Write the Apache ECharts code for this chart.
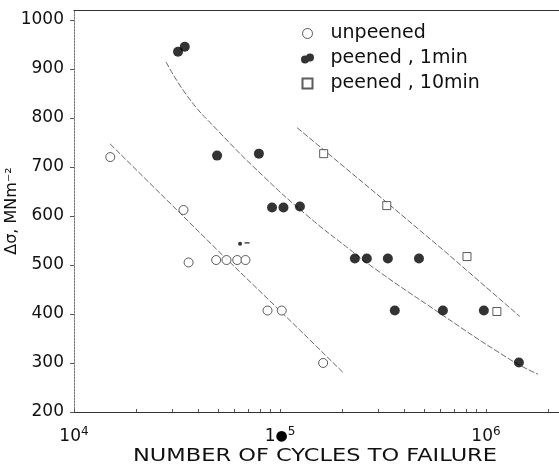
<!DOCTYPE html>
<html>
<head>
<meta charset="utf-8">
<script src="https://cdn.jsdelivr.net/npm/echarts@6/dist/echarts.min.js"></script>
<style>
html,body{margin:0;padding:0;background:#fff;}
#chart{width:559px;height:476px;}
</style>
</head>
<body>
<div id="chart"></div>
<script>
// ---- data ----
const unpeenedN = [15000, 34000, 36000, 49000, 55000, 62000, 68000, 87000, 102000, 162000];
const unpeenedS = [720, 612, 505, 510, 510, 510, 510, 407, 407, 300];

const peened1N = [32000, 34500, 49500, 79000, 91500, 104000, 125000, 231000, 264000, 334000, 473000, 361000, 618000, 977000, 1445000];
const peened1S = [935, 945, 723, 727, 617, 617, 619, 513, 513, 513, 513, 407, 407, 407, 301];

const peened10N = [163000, 330000, 809000, 1130000];
const peened10S = [727, 621, 517, 405];

// fitted curves (as drawn)
const fitUnpeenedN = [14960, 50600, 108000, 202000];
const fitUnpeenedS = [747, 527, 393, 281];
const fit1N = [28000, 35700, 49400, 84500, 137000, 219000, 283000, 535000, 1310000, 1790000];
const fit1S = [914, 843, 776, 678, 599, 531, 495, 415, 307, 277];
const fit10N = [121000, 306000, 618000, 1460000];
const fit10S = [780, 639, 531, 395];

// stray marks on the scan
const speckN = [64000];
const speckS = [543];
const dashN = [69200];
const dashS = [545];

// axes
const yTicks = [200, 300, 400, 500, 600, 700, 800, 900, 1000];
const xLabelValues = [10000, 100000, 1000000];
const xTickValues = [10000, 20000, 30000, 40000, 50000, 60000, 70000, 80000, 90000,
  100000, 200000, 300000, 400000, 500000, 600000, 700000, 800000, 900000,
  1000000, 2000000];
const legendNames = ['unpeened', 'peened , 1min', 'peened , 10min'];
const yName = 'Δσ, MNm⁻²';
const xName = 'NUMBER OF CYCLES TO FAILURE';

const FONT = 'DejaVu Sans';
const zip = (a, b) => a.map((v, i) => [v, b[i]]);

const chart = echarts.init(document.getElementById('chart'), null, {renderer: 'canvas'});

const xMin = 10000, xMax = 2340000;

const lineStyleFit = {color: '#6a6a6a', width: 1, type: [6, 2]};

const option = {
  backgroundColor: '#fff',
  animation: false,
  grid: {left: 74, top: 10, right: -3, bottom: 64, containLabel: false, outerBoundsMode: 'none'},
  legend: {
    orient: 'vertical',
    left: 296,
    top: 19,
    itemWidth: 36,
    itemHeight: 10,
    itemGap: 6,
    selectedMode: false,
    textStyle: {fontFamily: FONT, fontSize: 19, color: '#111', lineHeight: 19},
    data: [
      {name: legendNames[0], icon: 'circle', itemStyle: {borderWidth: 1}},
      {name: legendNames[1], icon: 'path://M0,6a4,4 0 1,0 8,0a4,4 0 1,0 -8,0Z M5,4a4,4 0 1,0 8,0a4,4 0 1,0 -8,0Z'},
      {name: legendNames[2], icon: 'path://M0,0H10V10H0Z'}
    ]
  },
  xAxis: [{
    type: 'log',
    min: xMin, max: xMax,
    logBase: 10,
    position: 'bottom',
    axisLine: {show: true, lineStyle: {color: '#333', width: 1}},
    axisTick: {show: true, inside: true, length: 3, customValues: xTickValues, lineStyle: {color: '#555'}},
    minorTick: {show: false},
    splitLine: {show: false},
    axisLabel: {
      show: true,
      customValues: xLabelValues,
      margin: 14,
      formatter: function (v) {
        const e = Math.round(Math.log10(v));
        if (e === 5) return '{b|1}{dot|●}{sup|5}';
        return '{b|10}{sup|' + e + '}';
      },
      rich: {
        b: {fontFamily: FONT, fontSize: 17, color: '#111', lineHeight: 21, verticalAlign: 'middle'},
        dot: {fontFamily: FONT, fontSize: 14, color: '#000', lineHeight: 21, verticalAlign: 'middle'},
        sup: {fontFamily: FONT, fontSize: 12, color: '#111', lineHeight: 12, verticalAlign: 'top'}
      }
    }
  }, {
    type: 'log',
    min: xMin, max: xMax,
    position: 'top',
    axisLine: {show: true, lineStyle: {color: '#333', width: 1}},
    axisTick: {show: false},
    axisLabel: {show: false},
    splitLine: {show: false}
  }],
  yAxis: {
    type: 'value',
    min: 200, max: 1020, interval: 100,
    name: yName,
    nameLocation: 'middle',
    nameGap: 54,
    nameRotate: 90,
    nameMoveOverlap: false,
    nameTextStyle: {fontFamily: FONT, fontSize: 16, color: '#111'},
    axisLine: {show: true, lineStyle: {color: '#777', width: 1, type: [2, 1]}},
    axisTick: {show: true, inside: false, length: 4, customValues: yTicks, lineStyle: {color: '#555'}},
    splitLine: {show: false},
    axisLabel: {
      customValues: yTicks, margin: 10, fontFamily: FONT, fontSize: 17, color: '#111',
      formatter: v => String(v)
    }
  },
  series: [
    {
      name: 'fitU', type: 'line', data: zip(fitUnpeenedN, fitUnpeenedS), showSymbol: false,
      lineStyle: lineStyleFit, silent: true, z: 1
    },
    {
      name: 'fit1', type: 'line', data: zip(fit1N, fit1S), showSymbol: false, smooth: 0.5,
      lineStyle: lineStyleFit, silent: true, z: 1
    },
    {
      name: 'fit10', type: 'line', data: zip(fit10N, fit10S), showSymbol: false,
      lineStyle: lineStyleFit, silent: true, z: 1
    },
    {
      name: legendNames[0], type: 'scatter', data: zip(unpeenedN, unpeenedS),
      symbol: 'circle', symbolSize: 9,
      itemStyle: {color: '#fff', borderColor: '#333', borderWidth: 1}, z: 3
    },
    {
      name: legendNames[1], type: 'scatter', data: zip(peened1N, peened1S),
      symbol: 'circle', symbolSize: 10,
      itemStyle: {color: '#000'}, z: 3
    },
    {
      name: legendNames[2], type: 'scatter', data: zip(peened10N, peened10S),
      symbol: 'path://M0,0H10V10H0Z', symbolSize: 8, symbolKeepAspect: true,
      itemStyle: {color: '#fff', borderColor: '#333', borderWidth: 1}, z: 3
    },
    {
      name: 'speck', type: 'scatter', data: zip(speckN, speckS),
      symbol: 'circle', symbolSize: 4, itemStyle: {color: '#000'}, silent: true
    },
    {
      name: 'dash', type: 'scatter', data: zip(dashN, dashS),
      symbol: 'rect', symbolSize: [5, 1.5], itemStyle: {color: '#222'}, silent: true
    }
  ],
  graphic: [{
    type: 'text',
    x: 315, y: 456,
    scaleX: 1.25,
    style: {
      text: xName, x: 0, y: 0,
      align: 'center', verticalAlign: 'middle',
      font: '18px "DejaVu Sans"', fill: '#111'
    }
  }]
};

chart.setOption(option);
</script>
</body>
</html>
